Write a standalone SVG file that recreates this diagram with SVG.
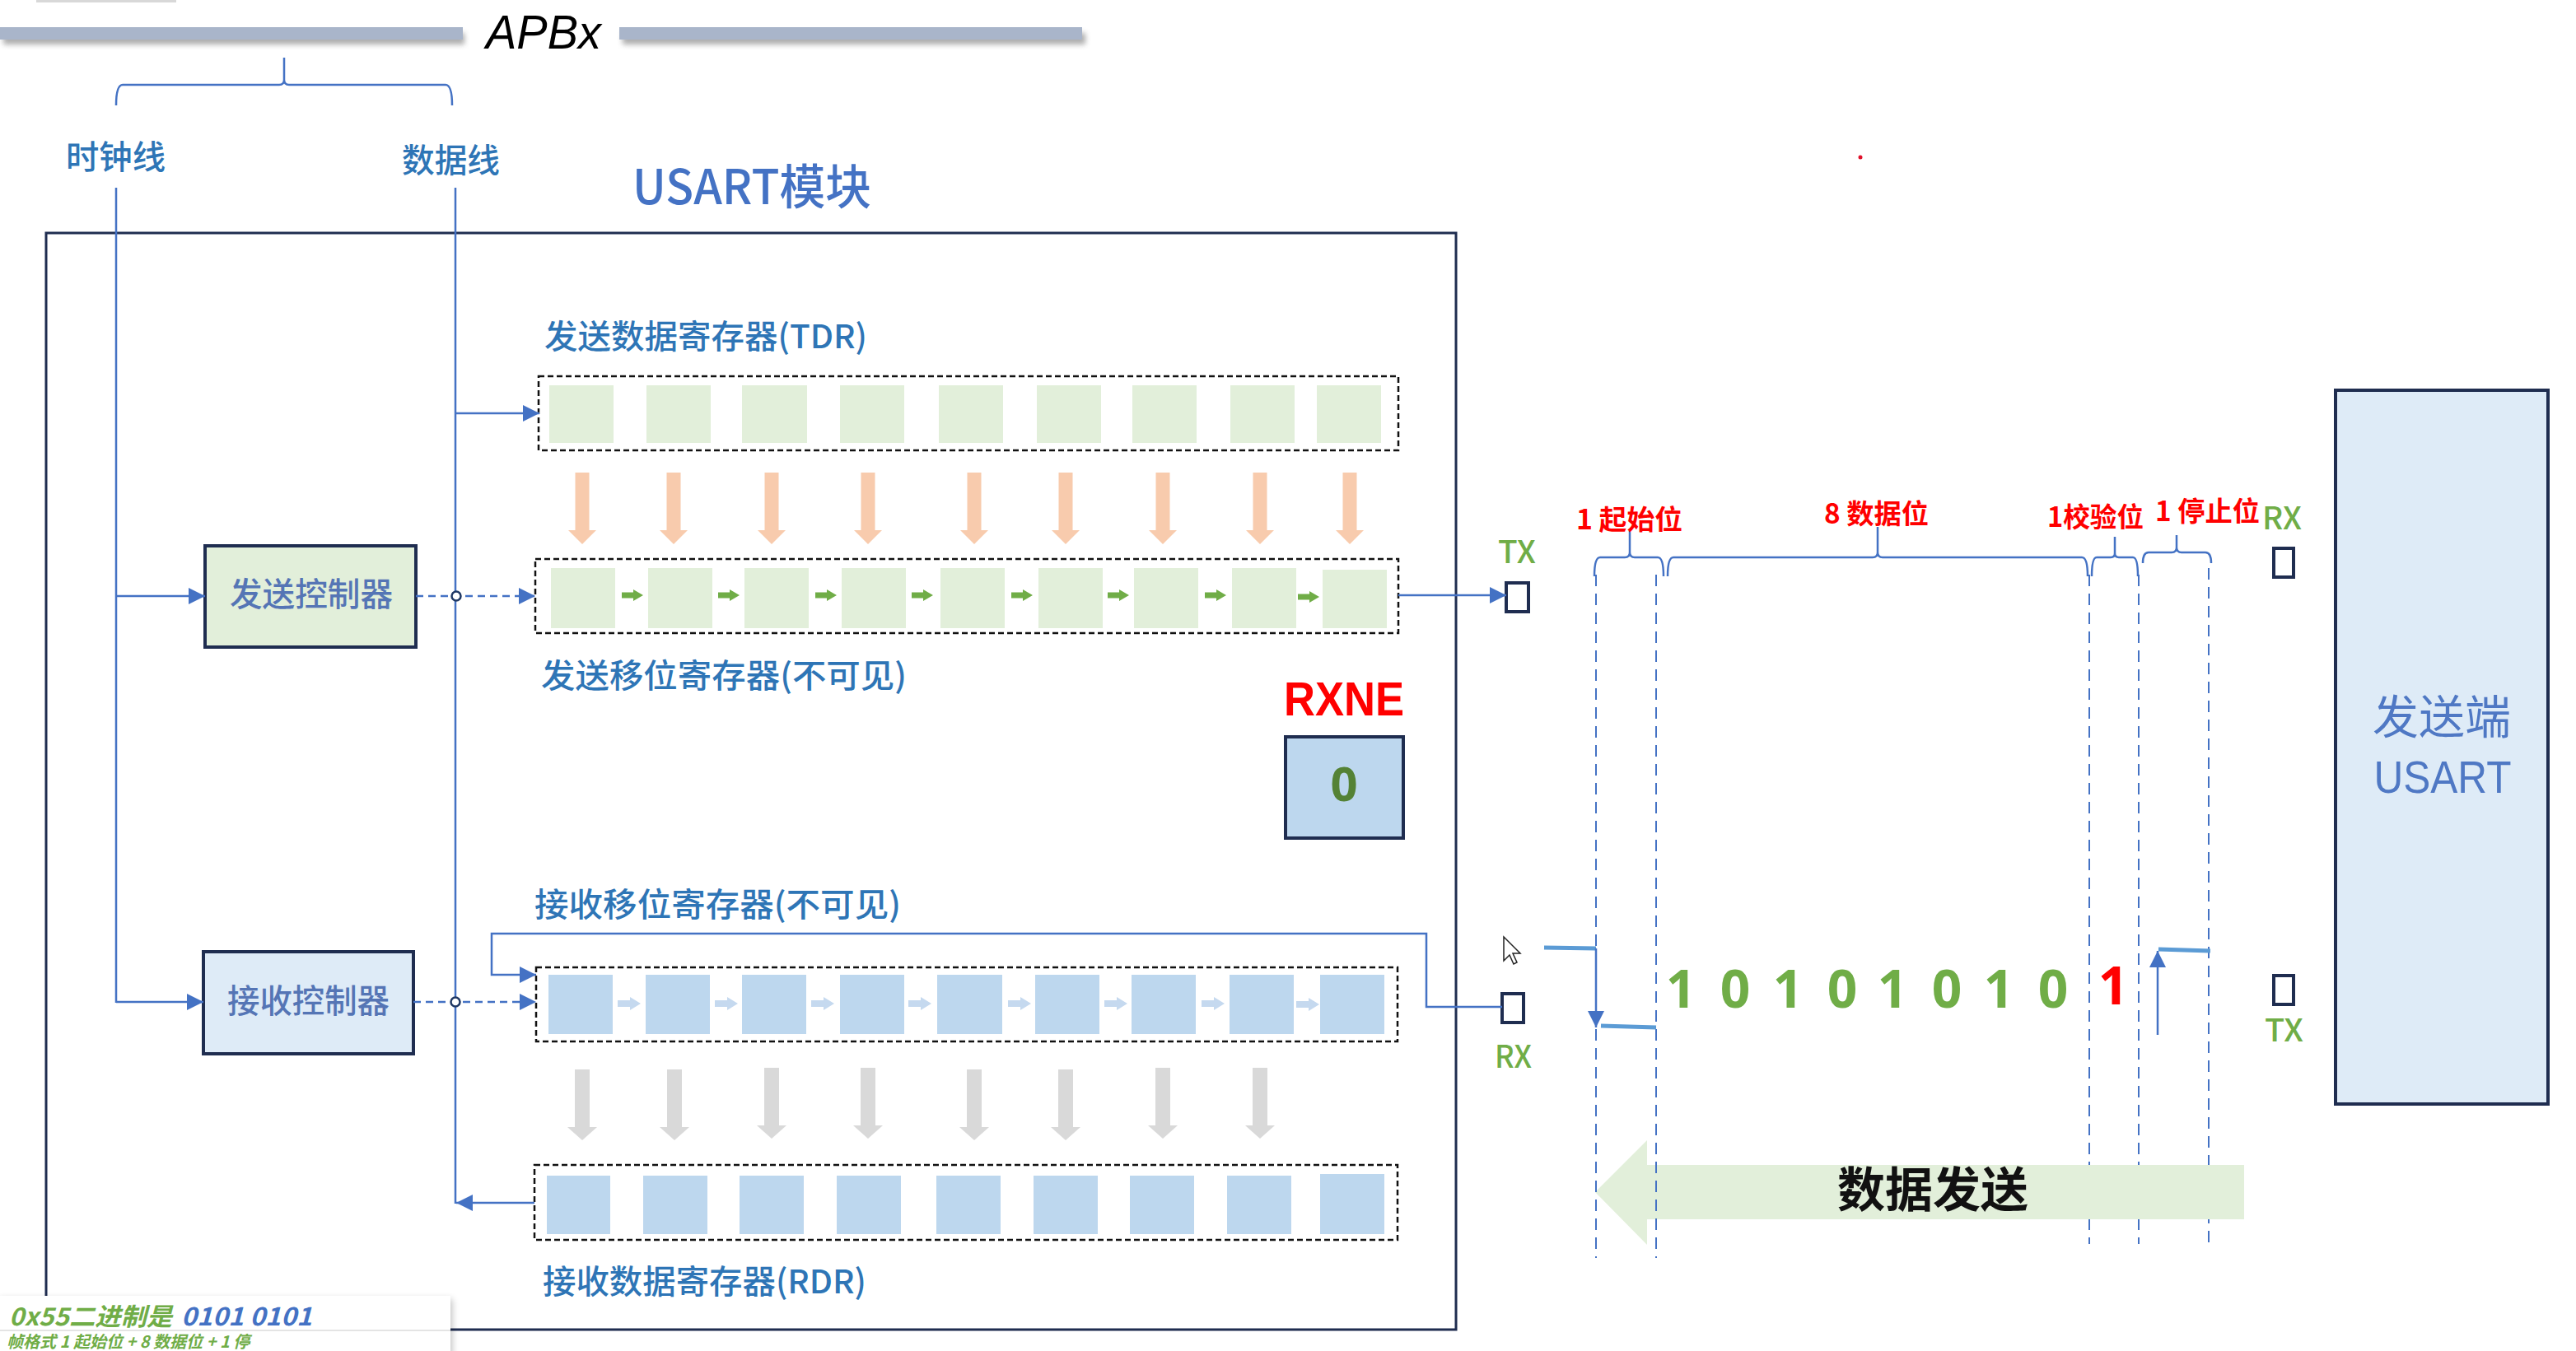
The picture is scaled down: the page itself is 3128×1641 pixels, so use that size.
<svg xmlns="http://www.w3.org/2000/svg" width="3128" height="1641" viewBox="0 0 3128 1641">
<style>
.cjk{font-family:"Noto Sans CJK SC","Noto Sans",sans-serif;font-weight:500}
.lbl{font-family:"Noto Sans CJK SC",sans-serif;fill:#2e75b6;font-size:40px;font-weight:500}
.red{font-family:"Noto Sans CJK SC",sans-serif;fill:#ff0000;font-size:33px;font-weight:bold}
.pin{font-family:"Noto Sans CJK SC","Noto Sans",sans-serif;fill:#70ad47;font-size:38px;font-weight:500}
.conn{stroke:#4472c4;stroke-width:2.5;fill:none}
.dash{stroke:#4472c4;stroke-width:2.5;fill:none;stroke-dasharray:9 6}
.vd{stroke:#4472c4;stroke-width:2;fill:none;stroke-dasharray:14 9}
.brace{stroke:#4472c4;stroke-width:2.5;fill:none}
.reg{fill:none;stroke:#111;stroke-width:2.5;stroke-dasharray:7 4}
.gc{fill:#e2efda}
.bc{fill:#bdd7ee}
.ctl{stroke:#1f2d50;stroke-width:4}
.pinbox{fill:#fff;stroke:#1f2d50;stroke-width:4}
.sig{stroke:#5b9bd5;stroke-width:5;fill:none}
.bit{font-family:"Noto Sans","Liberation Sans",sans-serif;font-size:64px;font-weight:bold;fill:#70ad47}
</style>
<defs>
<marker id="ah" viewBox="0 0 10 10" refX="10" refY="5" markerWidth="20" markerHeight="20" markerUnits="userSpaceOnUse" orient="auto"><path d="M0,0 L10,5 L0,10 z" fill="#4472c4"/></marker>
<path id="oarr" d="M-8.5,0 H8.5 V70 H17 L0,87 L-17,70 H-8.5 Z" fill="#f8cbad"/>
<path id="garr" d="M-9,0 H9 V70 H18 L0,86 L-18,70 H-9 Z" fill="#d9d9d9"/>
<path id="sarr" d="M-13,-3.5 H1 V-7 L13,0 L1,7 V3.5 H-13 Z" fill="#70ad47"/>
<path id="barr" d="M-14,-4 H1 V-8 L14,0 L1,8 V4 H-14 Z" fill="#c5d9ef"/>
<filter id="sh" x="-5%" y="-50%" width="110%" height="250%"><feGaussianBlur stdDeviation="3"/></filter>
<filter id="sh2" x="-10%" y="-20%" width="120%" height="140%"><feGaussianBlur stdDeviation="4"/></filter>
</defs>

<rect width="3128" height="1641" fill="#ffffff"/>
<rect x="44" y="0" width="170" height="3" fill="#d8d8d8"/>

<!-- APBx bus -->
<g id="apb-bus">
<rect x="4" y="40" width="560" height="14" fill="#6b6b6b" opacity="0.55" filter="url(#sh)"/>
<rect x="756" y="40" width="562" height="14" fill="#6b6b6b" opacity="0.55" filter="url(#sh)"/>
<rect x="0" y="33" width="562" height="15" fill="#a9b5ca"/>
<rect x="752" y="33" width="562" height="15" fill="#a9b5ca"/>
<text x="590" y="59" font-family="Liberation Sans, sans-serif" font-style="italic" font-size="58" fill="#000" textLength="140" lengthAdjust="spacingAndGlyphs">APBx</text>
</g>

<path class="brace" d="M141,128 Q141,103 149,103 H339 Q345,103 345,97 V70 M345,97 Q345,103 351,103 H541 Q549,103 549,128"/>
<text class="lbl" x="80" y="205" font-size="38" textLength="121" lengthAdjust="spacingAndGlyphs">时钟线</text>
<text class="lbl" x="488" y="209" font-size="39" textLength="119" lengthAdjust="spacingAndGlyphs">数据线</text>
<text class="cjk" x="768" y="248" font-size="58" fill="#4472c4" textLength="290" lengthAdjust="spacingAndGlyphs">USART模块</text>

<!-- USART module frame -->
<rect id="usart-module" x="56" y="283" width="1712" height="1332" fill="none" stroke="#1f2d50" stroke-width="3"/>

<!-- TDR -->
<g id="tdr">
<text class="lbl" x="661" y="423" textLength="392" lengthAdjust="spacingAndGlyphs">发送数据寄存器(TDR)</text>
<rect class="reg" x="654" y="457" width="1044" height="90"/>
<rect class="gc" x="667" y="468" width="78" height="70"/>
<rect class="gc" x="785" y="468" width="78" height="70"/>
<rect class="gc" x="901" y="468" width="79" height="70"/>
<rect class="gc" x="1020" y="468" width="78" height="70"/>
<rect class="gc" x="1140" y="468" width="78" height="70"/>
<rect class="gc" x="1259" y="468" width="78" height="70"/>
<rect class="gc" x="1375" y="468" width="78" height="70"/>
<rect class="gc" x="1494" y="468" width="78" height="70"/>
<rect class="gc" x="1599" y="468" width="78" height="70"/>
</g>

<g id="tdr-to-tsr">
<use href="#oarr" x="707" y="574"/>
<use href="#oarr" x="818" y="574"/>
<use href="#oarr" x="937" y="574"/>
<use href="#oarr" x="1054" y="574"/>
<use href="#oarr" x="1183" y="574"/>
<use href="#oarr" x="1294" y="574"/>
<use href="#oarr" x="1412" y="574"/>
<use href="#oarr" x="1530" y="574"/>
<use href="#oarr" x="1639" y="574"/>
</g>

<!-- TSR -->
<g id="tsr">
<rect class="reg" x="650" y="679" width="1048" height="90"/>
<rect class="gc" x="669" y="690" width="78" height="73"/>
<rect class="gc" x="787" y="690" width="78" height="73"/>
<rect class="gc" x="904" y="690" width="78" height="73"/>
<rect class="gc" x="1022" y="690" width="78" height="73"/>
<rect class="gc" x="1142" y="690" width="78" height="73"/>
<rect class="gc" x="1261" y="690" width="78" height="73"/>
<rect class="gc" x="1377" y="690" width="78" height="73"/>
<rect class="gc" x="1496" y="690" width="78" height="73"/>
<rect class="gc" x="1606" y="692" width="78" height="71"/>
<use href="#sarr" x="768" y="723"/>
<use href="#sarr" x="885" y="723"/>
<use href="#sarr" x="1003" y="723"/>
<use href="#sarr" x="1120" y="723"/>
<use href="#sarr" x="1241" y="723"/>
<use href="#sarr" x="1358" y="723"/>
<use href="#sarr" x="1476" y="723"/>
<use href="#sarr" x="1589" y="725"/>
<text class="lbl" x="657" y="835" textLength="444" lengthAdjust="spacingAndGlyphs">发送移位寄存器(不可见)</text>
</g>

<!-- Send controller -->
<g id="send-ctrl">
<rect class="ctl" x="249" y="663" width="256" height="123" fill="#e2efda"/>
<text class="cjk" x="279" y="736" font-size="40" fill="#5575b5" textLength="198" lengthAdjust="spacingAndGlyphs">发送控制器</text>
</g>

<!-- RXNE -->
<g id="rxne">
<text x="1559" y="869" font-family="Liberation Sans, sans-serif" font-size="58" fill="#ff0000" textLength="146" lengthAdjust="spacingAndGlyphs" font-weight="bold">RXNE</text>
<rect class="ctl" x="1561" y="895" width="143" height="123" fill="#bdd7ee"/>
<text x="1632" y="973" text-anchor="middle" font-family="Noto Sans, sans-serif" font-size="58" font-weight="bold" fill="#548235">0</text>
</g>

<!-- Receive controller -->
<g id="recv-ctrl">
<rect class="ctl" x="247" y="1156" width="255" height="124" fill="#deebf7"/>
<text class="cjk" x="276" y="1230" font-size="40" fill="#5575b5" textLength="197" lengthAdjust="spacingAndGlyphs">接收控制器</text>
</g>

<!-- RSR -->
<g id="rsr">
<text class="lbl" x="649" y="1113" textLength="445" lengthAdjust="spacingAndGlyphs">接收移位寄存器(不可见)</text>
<rect class="reg" x="651" y="1175" width="1046" height="90"/>
<rect class="bc" x="666" y="1184" width="78" height="72"/>
<rect class="bc" x="784" y="1184" width="78" height="72"/>
<rect class="bc" x="901" y="1184" width="78" height="72"/>
<rect class="bc" x="1020" y="1184" width="78" height="72"/>
<rect class="bc" x="1138" y="1184" width="79" height="72"/>
<rect class="bc" x="1257" y="1184" width="78" height="72"/>
<rect class="bc" x="1374" y="1184" width="78" height="72"/>
<rect class="bc" x="1493" y="1184" width="78" height="72"/>
<rect class="bc" x="1603" y="1184" width="78" height="72"/>
<use href="#barr" x="764" y="1219"/>
<use href="#barr" x="882" y="1219"/>
<use href="#barr" x="999" y="1219"/>
<use href="#barr" x="1117" y="1219"/>
<use href="#barr" x="1238" y="1219"/>
<use href="#barr" x="1355" y="1219"/>
<use href="#barr" x="1473" y="1219"/>
<use href="#barr" x="1588" y="1220"/>
</g>

<g id="rsr-to-rdr">
<use href="#garr" x="707" y="1299"/>
<use href="#garr" x="819" y="1299"/>
<use href="#garr" x="937" y="1297"/>
<use href="#garr" x="1054" y="1297"/>
<use href="#garr" x="1183" y="1299"/>
<use href="#garr" x="1294" y="1299"/>
<use href="#garr" x="1412" y="1297"/>
<use href="#garr" x="1530" y="1297"/>
</g>

<!-- RDR -->
<g id="rdr">
<rect class="reg" x="649" y="1415" width="1048" height="91"/>
<rect class="bc" x="664" y="1428" width="77" height="71"/>
<rect class="bc" x="781" y="1428" width="78" height="71"/>
<rect class="bc" x="898" y="1428" width="78" height="71"/>
<rect class="bc" x="1016" y="1428" width="78" height="71"/>
<rect class="bc" x="1137" y="1428" width="78" height="71"/>
<rect class="bc" x="1255" y="1428" width="78" height="71"/>
<rect class="bc" x="1372" y="1428" width="78" height="71"/>
<rect class="bc" x="1490" y="1428" width="78" height="71"/>
<rect class="bc" x="1603" y="1426" width="78" height="73"/>
<text class="lbl" x="659" y="1571" textLength="393" lengthAdjust="spacingAndGlyphs">接收数据寄存器(RDR)</text>
</g>

<!-- Pins -->
<g id="tx-pin">
<rect class="pinbox" x="1829" y="708" width="27" height="35"/>
<text class="pin" x="1819" y="684" textLength="46" lengthAdjust="spacingAndGlyphs">TX</text>
</g>
<g id="rx-pin">
<rect class="pinbox" x="1824" y="1207" width="26" height="35"/>
<text class="pin" x="1815" y="1297" textLength="45" lengthAdjust="spacingAndGlyphs">RX</text>
</g>

<!-- Connectors -->
<g id="connectors">
<line class="conn" x1="141" y1="228" x2="141" y2="1218"/>
<line class="conn" x1="553" y1="228" x2="553" y2="1462"/>
<line class="conn" x1="141" y1="724" x2="249" y2="724" marker-end="url(#ah)"/>
<line class="conn" x1="141" y1="1217" x2="247" y2="1217" marker-end="url(#ah)"/>
<line class="conn" x1="553" y1="502" x2="655" y2="502" marker-end="url(#ah)"/>
<line class="dash" x1="505" y1="724" x2="650" y2="724" marker-end="url(#ah)"/>
<circle cx="554" cy="724" r="5.5" fill="#fff" stroke="#1f3864" stroke-width="2.5"/>
<line class="dash" x1="502" y1="1217" x2="651" y2="1217" marker-end="url(#ah)"/>
<circle cx="553" cy="1217" r="5.5" fill="#fff" stroke="#1f3864" stroke-width="2.5"/>
<line class="conn" x1="649" y1="1461" x2="554" y2="1461" marker-end="url(#ah)"/>
<line class="conn" x1="1698" y1="723" x2="1829" y2="723" marker-end="url(#ah)"/>
<polyline class="conn" points="1824,1223 1732,1223 1732,1134 597,1134 597,1184 651,1184" marker-end="url(#ah)"/>
</g>

<!-- Frame timing -->
<g id="frame-timing">
<line class="vd" x1="2537" y1="698" x2="2537" y2="1511"/>
<line class="vd" x1="2597" y1="698" x2="2597" y2="1511"/>
<line class="vd" x1="2682" y1="690" x2="2682" y2="1511"/>
<path d="M1937,1448 L2000,1385 V1415 H2725 V1481 H2000 V1512 Z" fill="#e2efda"/>
<text x="2347" y="1466" text-anchor="middle" font-family="Noto Sans CJK SC, sans-serif" font-weight="bold" font-size="58" fill="#111">数据发送</text>
<line class="vd" x1="1938" y1="698" x2="1938" y2="1528"/>
<line class="vd" x1="2011" y1="698" x2="2011" y2="1528"/>

<path class="brace" d="M1936,700 Q1936,677 1943,677 H1973 Q1979,677 1979,671 V645 M1979,671 Q1979,677 1985,677 H2013 Q2020,677 2020,700"/>
<path class="brace" d="M2025,700 Q2025,677 2032,677 H2274 Q2280,677 2280,671 V640 M2280,671 Q2280,677 2286,677 H2528 Q2535,677 2535,700"/>
<path class="brace" d="M2540,700 Q2540,677 2546,677 H2563 Q2568,677 2568,672 V652 M2568,672 Q2568,677 2573,677 H2590 Q2596,677 2596,700"/>
<path class="brace" d="M2602,684 Q2602,671 2609,671 H2637 Q2643,671 2643,665 V650 M2643,665 Q2643,671 2649,671 H2678 Q2685,671 2685,684"/>

<text class="red" x="1914" y="643" textLength="129" lengthAdjust="spacingAndGlyphs">1 起始位</text>
<text class="red" x="2215" y="636" textLength="127" lengthAdjust="spacingAndGlyphs">8 数据位</text>
<text class="red" x="2486" y="640" textLength="117" lengthAdjust="spacingAndGlyphs">1校验位</text>
<text class="red" x="2617" y="633" textLength="127" lengthAdjust="spacingAndGlyphs">1 停止位</text>

<polyline class="sig" points="1875,1151 1938,1152"/>
<line class="conn" x1="1938" y1="1152" x2="1938" y2="1248" marker-end="url(#ah)"/>
<polyline class="sig" points="1944,1246 2011,1248"/>
<line class="conn" x1="2620" y1="1257" x2="2620" y2="1155" marker-end="url(#ah)"/>
<polyline class="sig" points="2621,1153 2684,1155"/>

<text class="bit" x="2041" y="1224" text-anchor="middle">1</text>
<text class="bit" x="2107" y="1224" text-anchor="middle">0</text>
<text class="bit" x="2171" y="1224" text-anchor="middle">1</text>
<text class="bit" x="2237" y="1224" text-anchor="middle">0</text>
<text class="bit" x="2298" y="1224" text-anchor="middle">1</text>
<text class="bit" x="2364" y="1224" text-anchor="middle">0</text>
<text class="bit" x="2427" y="1224" text-anchor="middle">1</text>
<text class="bit" x="2493" y="1224" text-anchor="middle">0</text>
<text class="bit" x="2566" y="1220" text-anchor="middle" style="fill:#ff0000">1</text>
</g>

<!-- Remote sender -->
<g id="sender-rx-pin">
<rect class="pinbox" x="2761" y="666" width="24" height="35"/>
<text class="pin" x="2747" y="643" textLength="48" lengthAdjust="spacingAndGlyphs">RX</text>
</g>
<g id="sender-tx-pin">
<rect class="pinbox" x="2761" y="1185" width="24" height="35"/>
<text class="pin" x="2750" y="1265" textLength="47" lengthAdjust="spacingAndGlyphs">TX</text>
</g>
<g id="sender-usart">
<rect x="2836" y="474" width="258" height="867" fill="#deebf7" stroke="#1f2d50" stroke-width="4"/>
<text x="2965" y="891" text-anchor="middle" font-family="Noto Sans CJK SC, sans-serif" font-size="56" fill="#4f78c4" textLength="168" lengthAdjust="spacingAndGlyphs">发送端</text>
<text x="2966" y="963" text-anchor="middle" font-family="Liberation Sans, sans-serif" font-size="56" fill="#4f78c4" textLength="167" lengthAdjust="spacingAndGlyphs">USART</text>
</g>

<!-- cursor and dot -->
<path d="M1826,1138 L1826,1167 L1833,1160 L1838,1171 L1842,1169 L1837,1158 L1846,1158 Z" fill="#fff" stroke="#222" stroke-width="1.5"/>
<circle cx="2259" cy="191" r="2.5" fill="#e0102a"/>

<!-- Note -->
<g id="note">
<rect x="0" y="1578" width="549" height="70" fill="#000" opacity="0.25" filter="url(#sh2)"/>
<rect x="0" y="1574" width="547" height="70" fill="#fff"/>
<line x1="0" y1="1616" x2="547" y2="1616" stroke="#e4e4e4" stroke-width="2"/>
<text x="11" y="1610" font-family="Noto Sans CJK SC, sans-serif" font-style="italic" font-weight="bold" font-size="30"><tspan fill="#70ad47" textLength="198" lengthAdjust="spacingAndGlyphs">0x55二进制是</tspan><tspan x="220" fill="#4472c4" textLength="159" lengthAdjust="spacingAndGlyphs">0101 0101</tspan></text>
<text x="8" y="1637" font-family="Noto Sans CJK SC, sans-serif" font-style="italic" font-weight="bold" font-size="20" fill="#70ad47">帧格式 1 起始位 + 8 数据位 + 1 停</text>
</g>
</svg>
